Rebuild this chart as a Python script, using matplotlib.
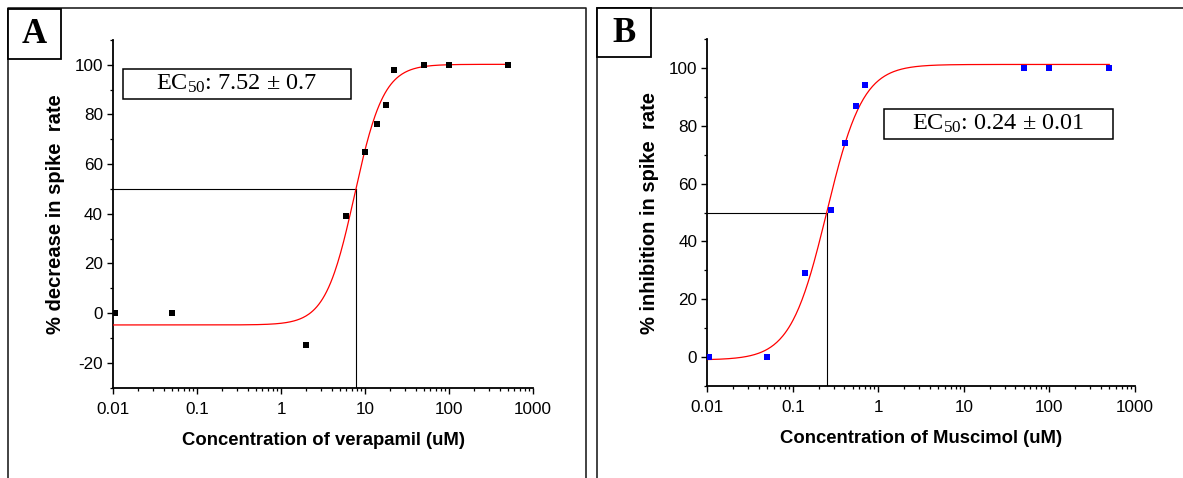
import numpy as np
import matplotlib
matplotlib.use("Agg")
import matplotlib.pyplot as plt
from matplotlib.ticker import LogLocator, MultipleLocator, FixedLocator, NullFormatter, FixedFormatter
from matplotlib.lines import Line2D
from matplotlib.patches import Rectangle

plt.rcParams['font.family'] = ['Liberation Sans', 'DejaVu Sans']
plt.rcParams['mathtext.default'] = 'regular'
plt.rcParams['axes.unicode_minus'] = False

# ---------------- data ----------------
# Panel A: verapamil
conc_a = [0.0105, 0.05, 2, 6, 10, 14, 18, 22, 50, 100, 500]
resp_a = [0, 0, -13, 39, 65, 76, 84, 98, 100, 100, 100]
fit_a = dict(bottom=-4.8, top=100.2, ec50=7.52, hill=2.5)
ec50_text_a = "EC$_{50}$: 7.52 ± 0.7"

# Panel B: muscimol
conc_b = [0.0105, 0.05, 0.14, 0.28, 0.41, 0.55, 0.69, 50, 100, 500]
resp_b = [0, 0, 29, 51, 74, 87, 94, 100, 100, 100]
fit_b = dict(bottom=-1.0, top=101.2, ec50=0.249, hill=2.05)
ec50_text_b = "EC$_{50}$: 0.24 ± 0.01"

xticks = [0.01, 0.1, 1, 10, 100, 1000]
xticklabels = ["0.01", "0.1", "1", "10", "100", "1000"]

W, H = 1183, 478
fig = plt.figure(figsize=(W / 100, H / 100), dpi=100)


def px(x, y):
    return x / W, 1 - y / H


def logistic(x, bottom, top, ec50, hill):
    return bottom + (top - bottom) / (1 + (ec50 / x) ** hill)


def x_at(y, bottom, top, ec50, hill):
    frac = (y - bottom) / (top - bottom)
    return ec50 * (frac / (1 - frac)) ** (1 / hill)


def panel(rect, conc, resp, fit, color, ylim, yticks, xlabel, ylabel, ec_text, box):
    ax = fig.add_axes(rect)
    ax.set_xscale('log')
    ax.set_xlim(0.01, 1000)
    ax.set_ylim(*ylim)
    for s in ['top', 'right']:
        ax.spines[s].set_visible(False)
    for s in ['left', 'bottom']:
        ax.spines[s].set_linewidth(1.3)
    ax.xaxis.set_major_locator(FixedLocator(xticks))
    ax.xaxis.set_major_formatter(FixedFormatter(xticklabels))
    ax.xaxis.set_minor_locator(LogLocator(base=10, subs=np.arange(2, 10), numticks=20))
    ax.xaxis.set_minor_formatter(NullFormatter())
    ax.set_yticks(yticks)
    ax.yaxis.set_minor_locator(MultipleLocator(10))
    ax.tick_params(which='major', direction='out', length=4.2, width=1.0, labelsize=12.3, pad=3)
    ax.tick_params(which='minor', direction='out', length=2.2, width=0.9)
    ax.tick_params(axis='x', which='major', pad=6)

    xs = np.logspace(-2, np.log10(500), 400)
    ax.plot(xs, logistic(xs, **fit), color='red', lw=0.9, zorder=3)
    x50 = x_at(50, **fit)
    ax.plot([0.01, x50], [50, 50], color='black', lw=0.8, zorder=2)
    ax.plot([x50, x50], [ylim[0], 50], color='black', lw=0.8, zorder=2)
    ax.plot(conc, resp, linestyle='none', marker='s', markersize=4.6,
            color=color, markeredgewidth=0, zorder=4)

    ax.set_xlabel(xlabel, fontsize=13.3, fontweight='bold', labelpad=11)
    ax.set_ylabel(ylabel, fontsize=14.5, fontweight='bold', labelpad=7)

    bx0, by0, bx1, by1 = box
    x0, y0 = px(bx0, by1)
    x1, y1 = px(bx1, by0)
    fig.patches.append(Rectangle((x0, y0), x1 - x0, y1 - y0, transform=fig.transFigure,
                                 fill=True, facecolor='white', edgecolor='black', lw=1.1, zorder=5))
    cx, cy = px((bx0 + bx1) / 2, (by0 + by1) / 2)
    fig.text(cx, cy, ec_text, ha='center', va='center', fontsize=17.5,
             family=['Liberation Serif', 'DejaVu Serif'], zorder=6)
    return ax


axA = panel([113 / W, 90.5 / H, 420 / W, 347.5 / H], conc_a, resp_a, fit_a, 'black',
            (-30, 110), [-20, 0, 20, 40, 60, 80, 100],
            "Concentration of verapamil (uM)", "% decrease in spike  rate",
            ec50_text_a, (122.5, 68.5, 351, 99))
axB = panel([707.3 / W, 92 / H, 427.7 / W, 347 / H], conc_b, resp_b, fit_b, '#0000FF',
            (-10, 110), [0, 20, 40, 60, 80, 100],
            "Concentration of Muscimol (uM)", "% inhibition in spike  rate",
            ec50_text_b, (884.5, 108.5, 1112.5, 139))


def fline(xs, ys, lw=1.2):
    pts = [px(x, y) for x, y in zip(xs, ys)]
    fig.add_artist(Line2D([p[0] for p in pts], [p[1] for p in pts], transform=fig.transFigure,
                          color='#222222', lw=lw))


# outer panel frames
fline([8, 8, 585.5, 585.5], [480, 7.5, 7.5, 480])
fline([597, 597, 1190], [480, 7.5, 7.5])

# panel letter boxes
for (bx0, by0, bx1, by1), letter in [((8, 8.5, 61, 59), "A"), ((597, 7.5, 651, 57), "B")]:
    x0, y0 = px(bx0, by1)
    x1, y1 = px(bx1, by0)
    fig.patches.append(Rectangle((x0, y0), x1 - x0, y1 - y0, transform=fig.transFigure,
                                 fill=True, facecolor='white', edgecolor='black', lw=1.3, zorder=5))
    cx, cy = px((bx0 + bx1) / 2, (by0 + by1) / 2 + 1)
    fig.text(cx, cy, letter, ha='center', va='center', fontsize=25, fontweight='bold',
             family=['Liberation Serif', 'DejaVu Serif'], zorder=6)

fig.savefig("out.png", dpi=100)
